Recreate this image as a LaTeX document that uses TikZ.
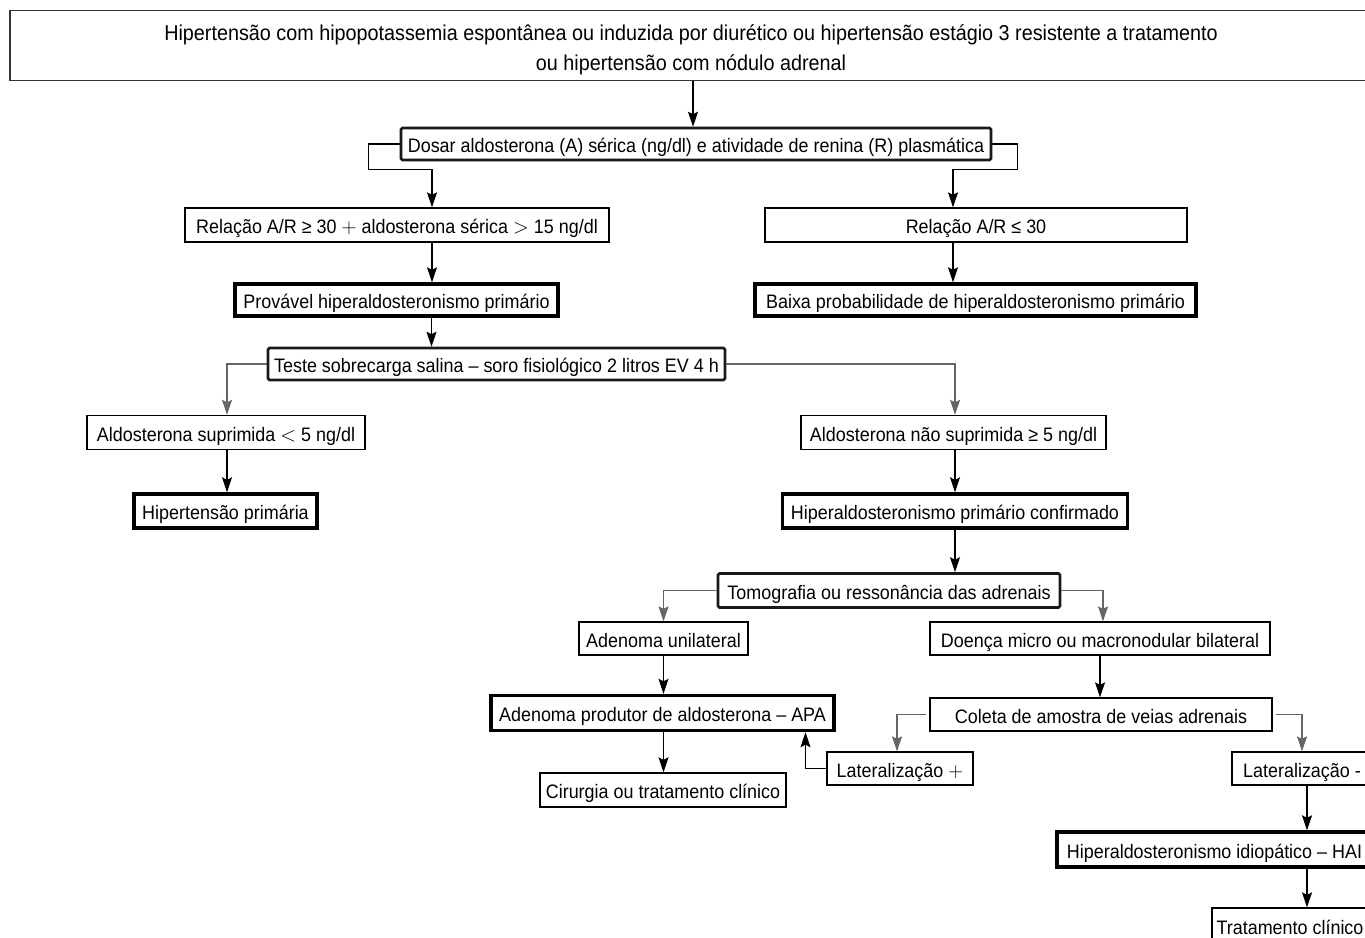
\documentclass[tikz,border=0pt]{standalone}
\usepackage{fontspec}
\setmainfont{Liberation Sans}[FakeStretch=0.92]
\usetikzlibrary{arrows.meta,calc}
\begin{document}
\begin{tikzpicture}[x=1pt,y=-1pt,
  font=\fontsize{19.5}{24}\selectfont,
  box/.style={draw=black,line width=1.3pt,inner sep=0pt,align=center,fill=white,text height=18pt,text depth=0.3pt},
  bold/.style={box,line width=3.4pt},
  dotbox/.style={box,line width=2.6pt,rounded corners=1.5pt,draw=black!90},
  arr/.style={draw=black,line width=1.3pt,-{Stealth[length=15pt,width=10pt,inset=2.5pt]}},
  garr/.style={draw=black!60,line width=1.4pt,-{Stealth[length=15pt,width=10pt,inset=2.5pt]}}]
\useasboundingbox[fill=white] (0,0) rectangle (1365,937);

\node[box,draw=black!80,line width=1.9pt,minimum width=1362pt,minimum height=70pt,font=\fontsize{21.5}{30}\selectfont,text height=,text depth=] (top) at (691,45.5)
  {\rule{0pt}{24pt}Hipertensão com hipopotassemia espontânea ou induzida por diurético ou hipertensão estágio 3 resistente a tratamento\\ou hipertensão com nódulo adrenal};
\node[dotbox,minimum width=590pt,minimum height=32pt] (dosar) at (696,144) {Dosar aldosterona (A) sérica (ng/dl) e atividade de renina (R) plasmática};
\node[box,minimum width=424pt,minimum height=34pt] (ra1) at (397,225) {Relação A/R ≥ 30 $+$ aldosterona sérica $>$ 15 ng/dl};
\node[box,minimum width=422pt,minimum height=34pt] (ra2) at (976,225) {Relação A/R ≤ 30};
\node[bold,minimum width=323pt,minimum height=32pt] (prov) at (396.5,300) {Provável hiperaldosteronismo primário};
\node[bold,minimum width=441pt,minimum height=32pt] (baixa) at (975.5,300) {Baixa probabilidade de hiperaldosteronismo primário};
\node[dotbox,minimum width=457pt,minimum height=32pt] (teste) at (496.5,364) {Teste sobrecarga salina -- soro fisiológico 2 litros EV 4 h};
\node[box,minimum width=278pt,minimum height=34pt] (sup) at (226,432.5) {Aldosterona suprimida $<$ 5 ng/dl};
\node[bold,minimum width=183pt,minimum height=34pt] (hp) at (225.5,511) {Hipertensão primária};
\node[box,minimum width=305pt,minimum height=34pt] (nsup) at (953.5,432.5) {Aldosterona não suprimida ≥ 5 ng/dl};
\node[bold,minimum width=345pt,minimum height=34pt] (conf) at (955,511) {Hiperaldosteronismo primário confirmado};
\node[dotbox,minimum width=342pt,minimum height=34pt] (tomo) at (889,590.5) {Tomografia ou ressonância das adrenais};
\node[box,minimum width=169pt,minimum height=33pt] (adu) at (663.5,638.5) {Adenoma unilateral};
\node[box,minimum width=340pt,minimum height=33pt] (doe) at (1100,638.5) {Doença micro ou macronodular bilateral};
\node[bold,minimum width=343pt,minimum height=35pt] (apa) at (662.5,713) {Adenoma produtor de aldosterona -- APA};
\node[box,minimum width=342pt,minimum height=33pt] (col) at (1101,714.5) {Coleta de amostra de veias adrenais};
\node[box,minimum width=146pt,minimum height=33pt] (latp) at (900,768.5) {Lateralização $+$};
\node[box,minimum width=246pt,minimum height=34pt] (cir) at (663,790) {Cirurgia ou tratamento clínico};
\node[box,minimum width=140pt,minimum height=33pt] (latm) at (1302,768.5) {Lateralização -};
\node[bold,minimum width=315pt,minimum height=35pt] (hai) at (1214.5,849.5) {Hiperaldosteronismo idiopático -- HAI};
\node[box,minimum width=156pt,minimum height=36pt] (trat) at (1290,926) {Tratamento clínico};

% connectors
\draw[arr] ([xshift=-3pt]dosar.north |- top.south) -- ([xshift=-3pt]dosar.north);
\draw[arr] (dosar.west) -- ++(-31,0) |- ([xshift=35pt,yshift=38pt]ra1.north) -- ([xshift=35pt]ra1.north);
\draw[arr] (dosar.east) -- ++(25,0) |- ([xshift=-23pt,yshift=38pt]ra2.north) -- ([xshift=-23pt]ra2.north);
\draw[arr] ([xshift=35pt]ra1.south) -- ([xshift=35pt]ra1.south |- prov.north);
\draw[arr] ([xshift=-23pt]ra2.south) -- ([xshift=-23pt]ra2.south |- baixa.north);
\draw[arr] ([xshift=35pt]prov.south) -- ([xshift=35pt]prov.south |- teste.north);
\draw[garr] (teste.west) -| ([xshift=1pt]sup.north);
\draw[garr] (teste.east) -| ([xshift=1.5pt]nsup.north);
\draw[arr] ([xshift=1pt]sup.south) -- ([xshift=1pt]sup.south |- hp.north);
\draw[arr] ([xshift=1.5pt]nsup.south) -- ([xshift=1.5pt]nsup.south |- conf.north);
\draw[arr] ([xshift=1.5pt]nsup.south |- conf.south) -- ([xshift=1.5pt]nsup.south |- tomo.north);
\draw[garr] (tomo.west) -| (adu.north);
\draw[garr] (tomo.east) -| ([xshift=3pt]doe.north);
\draw[arr] (adu.south) -- (adu.south |- apa.north);
\draw[arr] (doe.south) -- (doe.south |- col.north);
\draw[arr] (adu.south |- apa.south) -- (adu.south |- cir.north);
\draw[garr] ([xshift=-3pt]col.west) -| ([xshift=-3pt]latp.north);
\draw[garr] ([xshift=3pt]col.east) -| (latm.north);
\draw[arr] (latp.west) -| ([xshift=143pt]apa.south);
\draw[arr] ([xshift=5pt]latm.south) -- ([xshift=5pt]latm.south |- hai.north);
\draw[arr] ([xshift=5pt]latm.south |- hai.south) -- ([xshift=5pt]latm.south |- trat.north);
\end{tikzpicture}
\end{document}
